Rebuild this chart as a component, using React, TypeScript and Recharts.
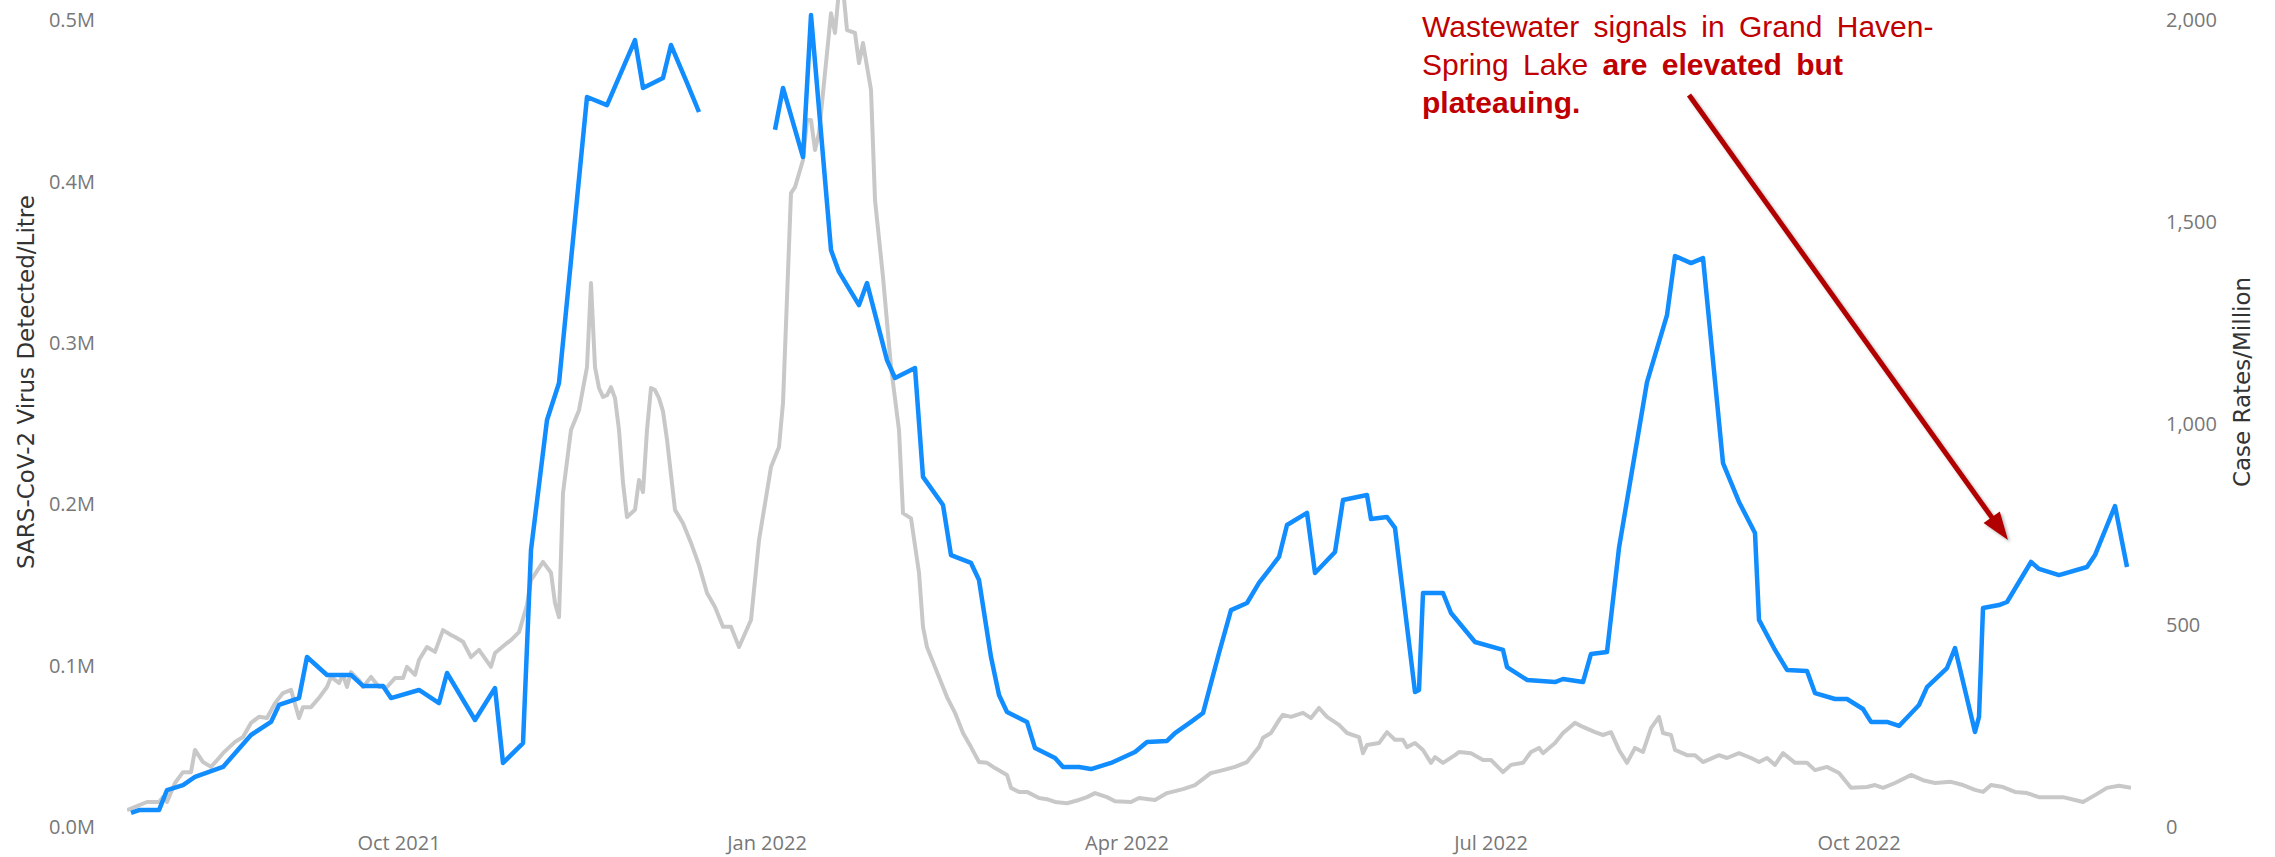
import { LineChart, Line, XAxis, YAxis } from "recharts";

// day index counted from 25 Jul 2021 (first reading)
const START = Date.UTC(2021, 6, 25);
const DAY = 86400000;
const LAST_DAY = 501;

// wastewater samples, SARS-CoV-2 copies per litre (null = no samples)
const wwDay = [
  1, 3, 8, 10, 14, 17, 24, 31, 36, 38, 43, 45, 50, 56, 59, 64, 66, 73, 78, 80,
  87, 92, 94, 99, 101, 105, 108, 115, 120, 127, 129, 134, 136, 140, 143, 150,
  162, 164, 169, 171, 176, 178, 183, 185, 190, 192, 197, 199, 204, 206, 211,
  213, 216, 218, 220, 225, 227, 232, 234, 238, 241, 246, 252, 255, 260, 262,
  266, 269, 273, 276, 280, 283, 288, 290, 295, 297, 302, 304, 310, 311, 315,
  317, 322, 323, 324, 329, 331, 337, 344, 345, 350, 357, 359, 364, 366, 370,
  373, 380, 385, 387, 391, 394, 399, 403, 407, 408, 412, 415, 420, 422, 427,
  430, 434, 436, 440, 443, 448, 450, 455, 457, 462, 463, 464, 468, 470, 476,
  478, 483, 490, 492, 497, 500,
];
const wwCopies = [
  8700, 10500, 10500, 22900, 26000, 31000, 37200, 57000, 65100, 75600, 79900,
  105300, 94200, 94200, 87400, 87400, 79900, 84900, 76800, 95400, 66300, 86100,
  39700, 52000, 171600, 252200, 275100, 452300, 447300, 487600, 457900, 464100,
  484500, 461000, 443000, null, 432000, 457900, 415100, 503100, 357500, 343900,
  323400, 337000, 289300, 278200, 284400, 216900, 199500, 168500, 163600,
  153000, 105300, 81800, 71300, 65100, 48900, 42800, 37200, 37200, 35900, 39700,
  46500, 52700, 53300, 58200, 65100, 70600, 107800, 134400, 138800, 151200,
  167300, 187100, 194600, 157400, 170400, 202600, 205700, 190800, 192100,
  185300, 83600, 84900, 145000, 145000, 132600, 114600, 109700, 99100, 91100,
  89800, 91700, 89800, 107200, 108400, 172900, 275700, 317200, 353800, 349400,
  352500, 225500, 201400, 182200, 128300, 109700, 97300, 96700, 83000, 79300,
  79300, 73100, 65100, 65100, 62600, 75600, 86700, 98500, 110900, 58900, 68200,
  135700, 137500, 139400, 164200, 159900, 156100, 161100, 168500, 198900,
  161100,
];

// case rates per million
const caseDay = [
  0, 5, 8, 9, 10, 12, 14, 16, 17, 19, 21, 23, 24, 27, 29, 31, 33, 35, 37, 39,
  41, 43, 44, 46, 48, 50, 51, 53, 54, 55, 56, 58, 59, 61, 63, 65, 67, 69, 70,
  72, 73, 75, 77, 79, 81, 82, 84, 86, 88, 91, 92, 95, 96, 98, 100, 101, 104,
  106, 107, 108, 109, 111, 113, 115, 116, 117, 118, 119, 120, 121, 122, 123,
  124, 125, 127, 128, 129, 130, 131, 132, 133, 134, 135, 137, 139, 141, 143,
  145, 147, 149, 151, 153, 156, 158, 161, 163, 164, 166, 167, 169, 170, 171,
  172, 173, 176, 177, 178, 179, 180, 182, 183, 184, 186, 187, 189, 191, 193,
  194, 196, 198, 199, 200, 201, 203, 205, 207, 209, 211, 213, 215, 217, 220,
  221, 223, 225, 228, 230, 232, 235, 238, 240, 242, 245, 247, 251, 253, 257,
  260, 264, 267, 271, 272, 274, 277, 280, 282, 283, 284, 286, 288, 289, 291,
  294, 296, 298, 300, 303, 305, 308, 309, 310, 313, 315, 317, 319, 320, 322,
  324, 326, 327, 329, 332, 333, 336, 339, 341, 344, 346, 349, 351, 353, 354,
  357, 359, 362, 364, 367, 369, 371, 373, 375, 377, 379, 381, 383, 384, 386,
  387, 390, 392, 394, 398, 400, 403, 406, 408, 410, 412, 414, 417, 420, 422,
  425, 428, 431, 435, 437, 439, 442, 446, 449, 452, 456, 459, 462, 464, 466,
  469, 472, 475, 478, 481, 484, 487, 489, 492, 495, 498, 501,
];
const caseRate = [
  42, 62, 62, 74, 62, 109, 136, 136, 191, 161, 149, 171, 183, 211, 223, 258,
  273, 270, 307, 332, 340, 270, 297, 297, 320, 347, 372, 357, 377, 347, 384,
  364, 347, 372, 347, 347, 369, 369, 397, 377, 414, 446, 434, 488, 476, 471,
  459, 421, 439, 397, 431, 456, 463, 483, 550, 612, 657, 630, 555, 520, 828,
  984, 1033, 1140, 1348, 1140, 1088, 1066, 1070, 1090, 1063, 984, 853, 768,
  786, 860, 830, 984, 1088, 1083, 1063, 1030, 960, 786, 753, 704, 649, 580,
  545, 496, 496, 446, 513, 711, 892, 942, 1051, 1571, 1586, 1653, 1752, 1752,
  1678, 1720, 2017, 1968, 2074, 2080, 1975, 1968, 1893, 1943, 1827, 1554,
  1363, 1140, 984, 778, 765, 630, 496, 446, 421, 372, 322, 283, 233, 198, 161,
  159, 146, 129, 97, 87, 87, 72, 69, 62, 59, 67, 74, 84, 74, 64, 62, 72, 67,
  84, 94, 104, 134, 136, 141, 149, 161, 186, 198, 221, 233, 265, 278, 273,
  283, 270, 295, 273, 253, 233, 223, 183, 203, 208, 235, 216, 216, 198, 208,
  191, 159, 173, 159, 178, 186, 183, 166, 166, 136, 154, 159, 186, 196, 183,
  208, 233, 258, 248, 235, 228, 235, 191, 159, 196, 186, 245, 273, 233, 228,
  191, 178, 178, 161, 178, 171, 183, 171, 161, 171, 154, 183, 159, 159, 141,
  149, 134, 97, 99, 104, 97, 109, 129, 116, 109, 112, 104, 92, 87, 104, 99,
  87, 84, 74, 74, 74, 67, 62, 79, 97, 102, 97,
];

const tickDates = ["2021-10-01", "2022-01-01", "2022-04-01", "2022-07-01", "2022-10-01"];
const tickLabels = ["Oct 2021", "Jan 2022", "Apr 2022", "Jul 2022", "Oct 2022"];
const leftTicks = [0, 100000, 200000, 300000, 400000, 500000];
const rightTicks = [0, 500, 1000, 1500, 2000];

const wwData = wwDay.map((d, i) => ({ t: START + d * DAY, ww: wwCopies[i] }));
const caseData = caseDay.map((d, i) => ({ t: START + d * DAY, cases: caseRate[i] }));
const xTicks = tickDates.map((s) => Date.parse(s + "T00:00:00Z"));

const W = 2275;
const H = 857;
const TICK_FONT = { fill: "#777777", fontSize: 20, fontFamily: "'Open Sans', sans-serif" };
const TITLE_STYLE = { fill: "#333333", fontSize: 23, fontFamily: "'DejaVu Sans', sans-serif" };

const ARROW_FROM = { x: 1689, y: 95 };
const ARROW_TO = { x: 2008, y: 540 };

function Arrow() {
  const dx = ARROW_TO.x - ARROW_FROM.x;
  const dy = ARROW_TO.y - ARROW_FROM.y;
  const len = Math.hypot(dx, dy);
  const ux = dx / len;
  const uy = dy / len;
  const head = 28;
  const half = 10;
  const bx = ARROW_TO.x - ux * head;
  const by = ARROW_TO.y - uy * head;
  const pts = [
    `${ARROW_TO.x},${ARROW_TO.y}`,
    `${bx - uy * half},${by + ux * half}`,
    `${bx + uy * half},${by - ux * half}`,
  ].join(" ");
  return (
    <svg width={W} height={H} style={{ position: "absolute", left: 0, top: 0, pointerEvents: "none" }}>
      <defs>
        <filter id="arrowShadow" x="-10%" y="-10%" width="120%" height="120%">
          <feDropShadow dx="2" dy="2" stdDeviation="1.5" floodColor="#000" floodOpacity="0.3" />
        </filter>
      </defs>
      <g filter="url(#arrowShadow)">
        <line x1={ARROW_FROM.x} y1={ARROW_FROM.y} x2={bx + ux * 2} y2={by + uy * 2} stroke="#b00000" strokeWidth={5} />
        <polygon points={pts} fill="#b00000" />
      </g>
    </svg>
  );
}

export default function App() {
  return (
    <div style={{ position: "absolute", left: 0, top: 0, width: W, height: H, background: "#fff", overflow: "hidden" }}>
      <LineChart width={W} height={H} margin={{ top: 0, right: 0, bottom: 0, left: 0 }}>
        <XAxis
          dataKey="t"
          type="number"
          domain={[START, START + LAST_DAY * DAY]}
          ticks={xTicks}
          tickFormatter={(v) => tickLabels[xTicks.indexOf(v)] ?? ""}
          axisLine={false}
          tickLine={false}
          tickSize={0}
          tickMargin={9}
          height={30}
          tick={TICK_FONT}
          allowDataOverflow
        />
        <YAxis
          yAxisId="left"
          orientation="left"
          width={127}
          domain={[0, 512400]}
          ticks={leftTicks}
          tickFormatter={(v) => (v / 1e6).toFixed(1) + "M"}
          axisLine={false}
          tickLine={false}
          tickSize={0}
          tickMargin={32}
          tick={TICK_FONT}
          allowDataOverflow
          label={{
            content: () => (
              <text transform="translate(34,382) rotate(-90)" textAnchor="middle" {...TITLE_STYLE}>
                SARS-CoV-2 Virus Detected/Litre
              </text>
            ),
          }}
        />
        <YAxis
          yAxisId="right"
          orientation="right"
          width={144}
          domain={[0, 2049.6]}
          ticks={rightTicks}
          tickFormatter={(v) => v.toLocaleString("en-US")}
          axisLine={false}
          tickLine={false}
          tickSize={0}
          tickMargin={35}
          tick={{ ...TICK_FONT, textAnchor: "start" }}
          allowDataOverflow
          label={{
            content: () => (
              <text transform="translate(2250,382) rotate(-90)" textAnchor="middle" {...TITLE_STYLE}>
                Case Rates/Million
              </text>
            ),
          }}
        />
        <Line
          yAxisId="right"
          data={caseData}
          dataKey="cases"
          type="linear"
          stroke="#c8c8c8"
          strokeWidth={4}
          strokeLinejoin="round"
          dot={false}
          activeDot={false}
          isAnimationActive={false}
        />
        <Line
          yAxisId="left"
          data={wwData}
          dataKey="ww"
          type="linear"
          stroke="#118dff"
          strokeWidth={4.5}
          strokeLinejoin="round"
          dot={false}
          activeDot={false}
          connectNulls={false}
          isAnimationActive={false}
        />
      </LineChart>
      <div
        style={{
          position: "absolute",
          left: 1422,
          top: 8,
          fontFamily: "'Liberation Sans', Arial, sans-serif",
          fontSize: 30,
          lineHeight: "38px",
          wordSpacing: 6,
          color: "#c00000",
          whiteSpace: "nowrap",
        }}
      >
        Wastewater signals in Grand Haven-
        <br />
        Spring Lake <b>are elevated but</b>
        <br />
        <b>plateauing.</b>
      </div>
      <Arrow />
    </div>
  );
}
